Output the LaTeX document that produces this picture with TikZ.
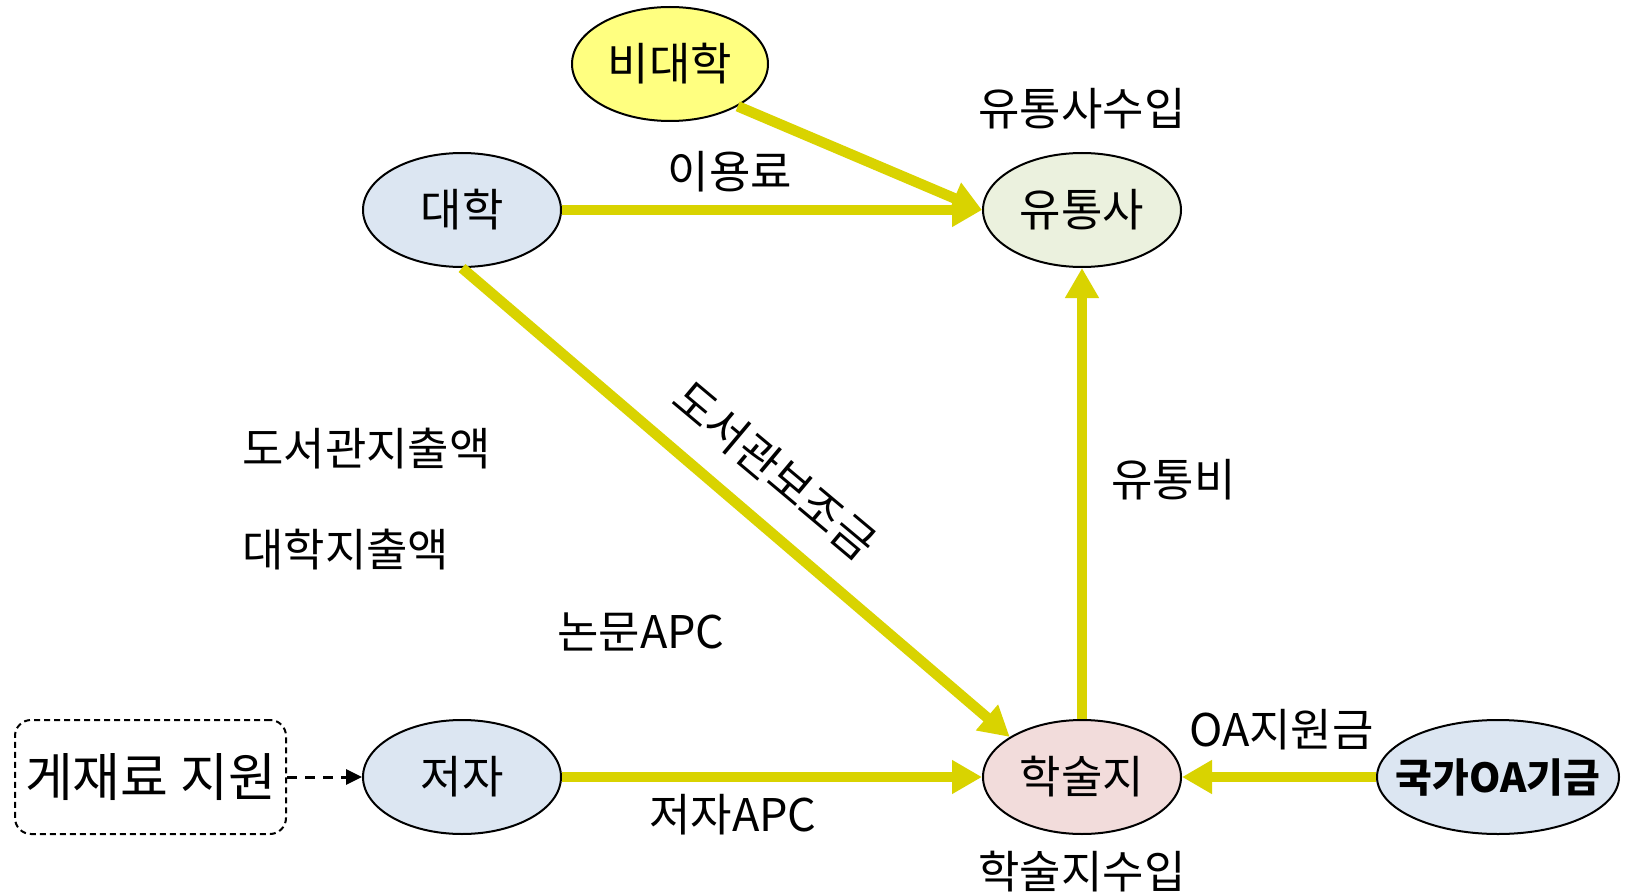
\documentclass[tikz,border=0pt]{standalone}
\usepackage{fontspec}
\setmainfont{Noto Sans CJK KR}
\usetikzlibrary{shapes.geometric,arrows.meta}

\definecolor{flow}{RGB}{217,211,0}
\definecolor{fillyellow}{RGB}{255,255,128}
\definecolor{fillblue}{RGB}{220,230,242}
\definecolor{fillgreen}{RGB}{235,241,222}
\definecolor{fillpink}{RGB}{242,220,219}

\begin{document}
\begin{tikzpicture}[x=1pt,y=-1pt,
  party/.style={ellipse,draw=black,line width=2pt,minimum width=198pt,
    minimum height=114pt,inner sep=0pt,font=\fontsize{45}{50}\selectfont},
  lbl/.style={font=\fontsize{45}{50}\selectfont,inner sep=0pt},
  flowarrow/.style={draw=flow,line width=10.5pt,
    -{Triangle[length=30pt,width=32pt]}},
  supportbox/.style={draw=black,line width=2pt,dash pattern=on 6pt off 4pt,
    rounded corners=16pt,minimum width=271pt,minimum height=114pt,
    inner sep=0pt,font=\fontsize{52}{56}\selectfont},
  supportarrow/.style={draw=black,line width=3pt,dash pattern=on 10pt off 8pt,
    -{Triangle[length=16pt,width=15pt]}},
]
\fill[white] (0,0) rectangle (1628,896);
\useasboundingbox (0,0) rectangle (1628,896);

% parties
\node[party,fill=fillyellow,minimum width=196pt] (bi) at (670,64) {비대학};
\node[party,fill=fillblue] (daehak) at (462,210) {대학};
\node[party,fill=fillgreen] (yutong) at (1082,210) {유통사};
\node[party,fill=fillblue] (jeoja) at (462,777) {저자};
\node[party,fill=fillpink] (hak) at (1082,777) {학술지};
\node[party,fill=fillblue,minimum width=242pt,inner xsep=-50pt,
  font=\fontsize{40}{44}\selectfont\bfseries] (gukga) at (1498,777) {국가OA기금};
\node[supportbox] (fee) at (150.5,777) {게재료 지원};

% money flows
\draw[flowarrow] (bi.-32) -- (yutong.west);
\draw[flowarrow] (daehak.east) -- (yutong.west);
\draw[flowarrow] (daehak.south) -- (hak.151);
\draw[flowarrow] (hak.north) -- (yutong.south);
\draw[flowarrow] (jeoja.east) -- (hak.west);
\draw[flowarrow] (gukga.west) -- (hak.east);
\draw[supportarrow] (fee.east) -- (jeoja.west);

% labels
\node[lbl] (l1) at (1082,109) {유통사수입};
\node[lbl] (l2) at (730,172) {이용료};
\node[lbl,rotate=-40] (l3) at (775,470) {도서관보조금};
\node[lbl,anchor=west] (l4) at (242,449) {도서관지출액};
\node[lbl,anchor=west] (l5) at (242,550) {대학지출액};
\node[lbl,anchor=west] (l6) at (557,632) {논문APC};
\node[lbl,anchor=west] (l7) at (1111,480) {유통비};
\node[lbl,anchor=west] (l8) at (1189,730) {OA지원금};
\node[lbl,anchor=west] (l9) at (649,815) {저자APC};
\node[lbl] (l10) at (1082,872) {학술지수입};
\end{tikzpicture}
\end{document}
